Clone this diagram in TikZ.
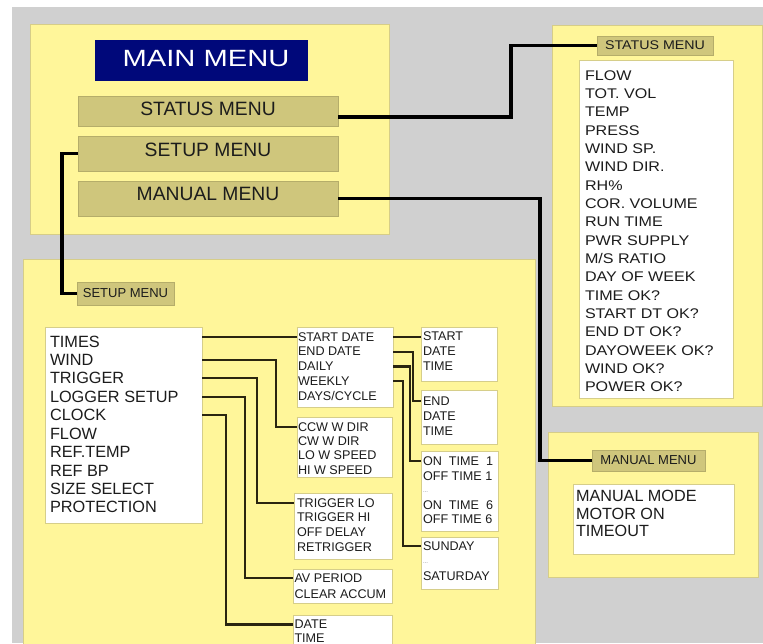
\documentclass[tikz,border=0pt]{standalone}
\usepackage{fontspec}
\setmainfont{Liberation Sans}
\usepackage{graphicx}
\newcommand{\fs}[1]{\fontsize{#1}{#1}\selectfont}
\definecolor{bg}{HTML}{D0D0D0}
\definecolor{pan}{HTML}{FFF69A}
\definecolor{panedge}{HTML}{D6CD88}
\definecolor{barc}{HTML}{CFC67C}
\definecolor{baredge}{HTML}{B5AD6A}
\definecolor{navy}{HTML}{00087A}
\definecolor{wedge}{HTML}{D6CE8A}
\definecolor{txt}{HTML}{1C1C1C}
\definecolor{wirec}{HTML}{2A2510}
\begin{document}
\begin{tikzpicture}[x=1pt,y=-1pt,
  panel/.style={fill=pan,draw=panedge,line width=0.8pt},
  wbox/.style={draw=wedge,fill=white,line width=0.8pt,anchor=north west,inner sep=0,outer sep=0},
  barbox/.style={draw=baredge,fill=barc,line width=0.6pt,anchor=north west,inner sep=0,outer sep=0},
  lab/.style={barbox,text=txt,font=\fs{13}},
  tx/.style={anchor=base west,inner sep=0,outer sep=0,text=txt},
  mainwire/.style={draw=black,line width=3.3pt},
  subwire/.style={draw=wirec,line width=2.1pt},
]
\useasboundingbox (0,0) rectangle (763,643);
\clip (0,0) rectangle (763,643);
\fill[white] (0,0) rectangle (763,643);
\fill[bg] (12,7) rectangle (763,643);

% panels
\filldraw[panel] (30,24) rectangle (389,234);
\filldraw[panel] (552,25) rectangle (762,406);
\filldraw[panel] (23,259) rectangle (535,660);
\filldraw[panel] (548,432) rectangle (758,577);

% main menu
\node[fill=navy,anchor=north west,inner sep=0,minimum width=213pt,minimum height=41pt] (mainbox) at (95,40) {};
\node[anchor=base,inner sep=0,text=white,font=\fs{23.5}] (maintitle) at (206,66.7) {\scalebox{1.24}[1]{MAIN MENU}};
\node[barbox,minimum width=260pt,minimum height=30pt] (statusbar) at (78,96) {};
\node[barbox,minimum width=260pt,minimum height=35pt] (setupbar) at (78,136) {};
\node[barbox,minimum width=260pt,minimum height=35pt] (manualbar) at (78,181) {};
\node[anchor=base,inner sep=0,text=txt,font=\fs{19.3}] (statustext) at (208,115) {STATUS MENU};
\node[anchor=base,inner sep=0,text=txt,font=\fs{19.3}] (setuptext) at (208,156.7) {SETUP MENU};
\node[anchor=base,inner sep=0,text=txt,font=\fs{19.3}] (manualtext) at (208,200) {MANUAL MENU};

% status menu
\node[lab,minimum width=116pt,minimum height=19pt,font=\fs{12.6}] (statuslabel) at (597,36) {\scalebox{1.13}[1]{STATUS MENU}};
\node[wbox,minimum width=154pt,minimum height=338pt] (statuslist) at (579,60) {};
\foreach \s [count=\i from 0] in {FLOW,TOT. VOL,TEMP,PRESS,WIND SP.,WIND DIR.,RH\%,COR. VOLUME,RUN TIME,PWR SUPPLY,M/S RATIO,DAY OF WEEK,TIME OK?,START DT OK?,END DT OK?,DAYOWEEK OK?,WIND OK?,POWER OK?}
  \node[tx,font=\fs{14}] (st\i) at (585,{80+18.35*\i}) {\scalebox{1.15}[1]{\s}};

% manual menu
\node[lab,minimum width=113pt,minimum height=21pt] (manuallabel) at (592,450) {MANUAL MENU};
\node[wbox,minimum width=161pt,minimum height=70pt] (manlist) at (573,484) {};
\node[tx,font=\fs{16.2}] (mm0) at (576,501.7) {MANUAL MODE};
\node[tx,font=\fs{16.2}] (mm1) at (576,519.3) {MOTOR ON};
\node[tx,font=\fs{16.2}] (mm2) at (576,536.7) {TIMEOUT};

% setup menu
\node[lab,minimum width=97pt,minimum height=23pt] (setuplabel) at (77,282) {SETUP MENU};
\node[wbox,minimum width=157pt,minimum height=196pt] (setlist) at (45,327) {};
\foreach \s [count=\i from 0] in {TIMES,WIND,TRIGGER,LOGGER SETUP,CLOCK,FLOW,REF.TEMP,REF BP,SIZE SELECT,PROTECTION}
  \node[tx,font=\fs{16.3}] (sl\i) at (50,{347+18.44*\i}) {\s};

\node[wbox,minimum width=96pt,minimum height=80pt] (sdbox) at (297,327) {};
\foreach \s [count=\i from 0] in {START DATE,END DATE,DAILY,WEEKLY,DAYS/CYCLE}
  \node[tx,font=\fs{12.6}] (sd\i) at (298,{341+14.9*\i}) {\s};
\node[wbox,minimum width=95pt,minimum height=60pt] (ccwbox) at (297,417) {};
\foreach \s [count=\i from 0] in {CCW W DIR,CW W DIR,LO W SPEED,HI W SPEED}
  \node[tx,font=\fs{12.6}] (cw\i) at (298,{431.5+14.2*\i}) {\s};
\node[wbox,minimum width=98pt,minimum height=66pt] (trigbox) at (294,493) {};
\foreach \s [count=\i from 0] in {TRIGGER LO,TRIGGER HI,OFF DELAY,RETRIGGER}
  \node[tx,font=\fs{12.6}] (tr\i) at (297,{507+14.9*\i}) {\s};
\node[wbox,minimum width=99pt,minimum height=34pt] (avbox) at (293,569) {};
\node[tx,font=\fs{12.6}] (av0) at (294.5,582.7) {AV PERIOD};
\node[tx,font=\fs{12.6}] (av1) at (294.5,598) {CLEAR ACCUM};
\node[wbox,minimum width=99pt,minimum height=45pt] (datebox) at (293,615) {};
\node[tx,font=\fs{12.6}] (dt0) at (294.5,628.8) {DATE};
\node[tx,font=\fs{12.6}] (dt1) at (294.5,642.6) {TIME};

\node[wbox,minimum width=76pt,minimum height=54pt] (startbox) at (421,327) {};
\foreach \s [count=\i from 0] in {START,DATE,TIME}
  \node[tx,font=\fs{12.6}] (ss\i) at (423,{340.7+15*\i}) {\s};
\node[wbox,minimum width=76pt,minimum height=54pt] (endbox) at (421,390) {};
\foreach \s [count=\i from 0] in {END,DATE,TIME}
  \node[tx,font=\fs{12.6}] (en\i) at (423,{405+15*\i}) {\s};
\node[wbox,minimum width=77pt,minimum height=80pt] (onbox) at (421,451) {};
\node[tx,font=\fs{12.6}] (on0) at (423,465.7) {ON~ TIME~ 1};
\node[tx,font=\fs{12.6}] (on1) at (423,480) {OFF TIME 1};
\node[tx,font=\fs{6},text=gray] (on2) at (423,492) {...};
\node[tx,font=\fs{12.6}] (on3) at (423,509) {ON~ TIME~ 6};
\node[tx,font=\fs{12.6}] (on4) at (423,523.3) {OFF TIME 6};
\node[wbox,minimum width=77pt,minimum height=52pt] (sunbox) at (421,537) {};
\node[tx,font=\fs{12.6}] (su0) at (423,550) {SUNDAY};
\node[tx,font=\fs{6},text=gray] (su1) at (423,563) {...};
\node[tx,font=\fs{12.6}] (su2) at (423,580) {SATURDAY};

% setup connectors
\draw[subwire] (setlist.east |- sd0) -- (sdbox.west |- sd0);
\draw[subwire] (setlist.east |- sl1) -- ([xshift=74pt]setlist.east |- sl1) |- (ccwbox.west |- cw0);
\draw[subwire] (setlist.east |- sl2) -- ([xshift=55pt]setlist.east |- sl2) |- (trigbox.west |- tr0);
\draw[subwire] (setlist.east |- sl3) -- ([xshift=43pt]setlist.east |- sl3) |- (avbox.west |- av0);
\draw[subwire] (setlist.east |- sl4) -- ([xshift=24pt]setlist.east |- sl4) |- (datebox.west |- dt0);

\draw[subwire] (sdbox.east |- sd0) -- (startbox.west |- sd0);
\draw[subwire] (sdbox.east |- sd1) -- ([xshift=20pt]sdbox.east |- sd1) |- (endbox.west |- en0);
\draw[subwire] (sdbox.east |- sd2) -- ([xshift=17pt]sdbox.east |- sd2) |- (onbox.west |- on0);
\draw[subwire] (sdbox.east |- sd3) -- ([xshift=10pt]sdbox.east |- sd3) |- (sunbox.west |- su0);

% main connectors
\draw[mainwire] (setupbar.west) -- ([xshift=-16pt]setupbar.west) |- (setuplabel.west);
\draw[mainwire] ([yshift=-6pt]statusbar.east) -- ([xshift=173pt,yshift=-6pt]statusbar.east) |- (statuslabel.west);
\draw[mainwire] (manualbar.east) -- ([xshift=202pt]manualbar.east) |- (manuallabel.west);
\end{tikzpicture}
\end{document}
